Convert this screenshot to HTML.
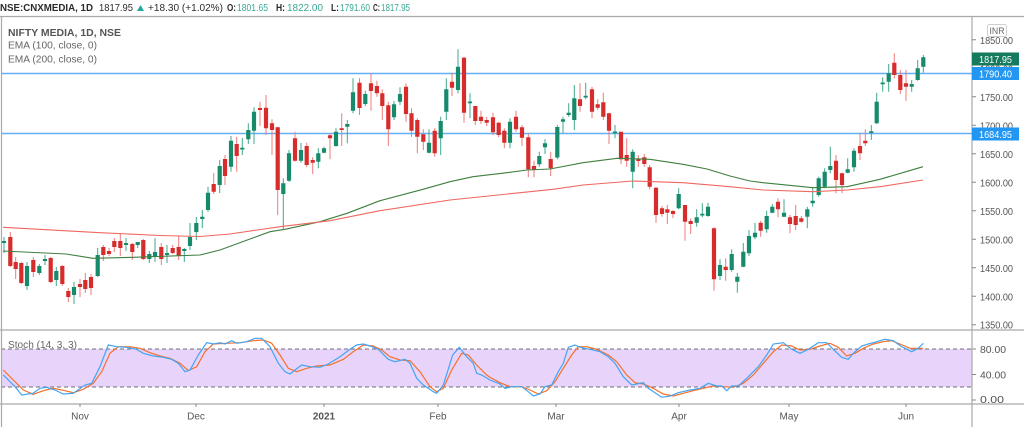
<!DOCTYPE html>
<html><head><meta charset="utf-8"><style>
html,body{margin:0;padding:0;background:#fff;}
svg{display:block;font-family:"Liberation Sans",sans-serif;}
</style></head><body>
<svg width="1024" height="427" viewBox="0 0 1024 427" xmlns="http://www.w3.org/2000/svg">
<rect width="1024" height="427" fill="#fff"/>
<!-- title -->
<g font-size="10.5" fill="#2b2b2b">
<text x="0" y="11" font-weight="bold" textLength="93" lengthAdjust="spacingAndGlyphs">NSE:CNXMEDIA, 1D</text>
<text x="99" y="11" textLength="34" lengthAdjust="spacingAndGlyphs">1817.95</text>
<polygon points="137,11 144,11 140.5,5" fill="#26a69a"/>
<text x="148" y="11" textLength="75" lengthAdjust="spacingAndGlyphs">+18.30 (+1.02%)</text>
<text x="227" y="11" font-weight="bold" textLength="9" lengthAdjust="spacingAndGlyphs">O:</text>
<text x="237" y="11" fill="#3aa796" textLength="31" lengthAdjust="spacingAndGlyphs">1801.65</text>
<text x="276" y="11" font-weight="bold" textLength="9" lengthAdjust="spacingAndGlyphs">H:</text>
<text x="287" y="11" fill="#3aa796" textLength="36" lengthAdjust="spacingAndGlyphs">1822.00</text>
<text x="331" y="11" font-weight="bold" textLength="8" lengthAdjust="spacingAndGlyphs">L:</text>
<text x="340" y="11" fill="#3aa796" textLength="30" lengthAdjust="spacingAndGlyphs">1791.60</text>
<text x="373" y="11" font-weight="bold" textLength="7" lengthAdjust="spacingAndGlyphs">C:</text>
<text x="381" y="11" fill="#3aa796" textLength="29" lengthAdjust="spacingAndGlyphs">1817.95</text>
</g>
<!-- stoch band -->
<rect x="1" y="349" width="971" height="38" fill="#e8d3fa"/>
<line x1="1" y1="349" x2="972" y2="349" stroke="#6f6f7a" stroke-width="1" stroke-dasharray="4,3"/>
<line x1="1" y1="387" x2="972" y2="387" stroke="#6f6f7a" stroke-width="1" stroke-dasharray="4,3"/>
<!-- frame -->
<g stroke="#a9a9a9" stroke-width="1.2" fill="none">
<line x1="0" y1="16.5" x2="1024" y2="16.5"/>
<line x1="1.5" y1="16.5" x2="1.5" y2="427"/>
<line x1="972" y1="16.5" x2="972" y2="427"/>
<line x1="0" y1="330" x2="1024" y2="330"/>
<line x1="0" y1="404" x2="1024" y2="404"/>
</g>
<!-- horizontal level lines -->
<line x1="1.5" y1="73.5" x2="972" y2="73.5" stroke="#64b0f5" stroke-width="1.5"/>
<line x1="1.5" y1="133.5" x2="972" y2="133.5" stroke="#64b0f5" stroke-width="1.5"/>
<!-- legend -->
<g font-size="10.5">
<text x="8" y="36" font-weight="bold" fill="#555" textLength="113" lengthAdjust="spacingAndGlyphs">NIFTY MEDIA, 1D, NSE</text>
<text x="8" y="48.5" fill="#666" textLength="89" lengthAdjust="spacingAndGlyphs">EMA (100, close, 0)</text>
<text x="8" y="62.5" fill="#666" textLength="89" lengthAdjust="spacingAndGlyphs">EMA (200, close, 0)</text>
<text x="8" y="348" fill="#666" font-size="10" textLength="69" lengthAdjust="spacingAndGlyphs">Stoch (14, 3, 3)</text>
</g>
<!-- candles -->
<path fill="none" stroke="#3fa88c" stroke-width="1" d="M4 237V253M27 262V290M39.3 264V275M45 255V265M56.3 267V286M74 282V304M97.7 248V277M126 238V251M137.7 242V248M149.3 251V263M155 238V262M167 245V263M184.3 248V262M190 223V250M196.3 217V240M202.3 210V228M208 186.7V211.7M219.7 160V193M231 136V171.7M242.3 138V155M248.3 123.3V144M254 107.3V144M283.3 178.3V230M289 150V181.7M301 142.7V162.7M318.3 148.3V168.3M324 146.7V153.3M336 128.3V146.7M347.3 120V143.3M353 78.3V113.3M365.3 90.7V106M394 101V120M400 87.3V105M429 129.3V153.3M440.7 116.7V155M446.3 78.3V120M458 49.3V93.3M470 93.3V118.3M510 118.3V148.3M539.3 151.7V166.7M545 139.3V154M557.3 125V159.3M563 116.7V133.3M568.7 103.3V116.7M574.3 85V130M585.7 82.7V99.3M615 125V138.3M632.7 149.3V188.3M678.7 188.3V209.3M696.7 209.3V226.7M702.3 203.3V217.3M708 202.7V216.7M720 259.3V280M731.7 249.3V271.7M737.3 272.7V292.7M743.3 243V267.3M749 230V256M755 222.7V239.3M766.7 210.7V232.7M772.3 204V213.3M784 199.3V217.3M807.3 206.7V228.3M812.7 186.7V206.7M818.7 176.7V196.7M824.7 168.3V188.3M830.3 146.7V173.3M847.7 158.3V173.3M854 148.3V171.7M871.3 125V140M876.7 92.7V124M882.7 77.3V91.7M888.7 64V91.7M911.7 80V91.7M917.7 60V80.7M923.3 55V72.7"/>
<path fill="none" stroke="#168a6b" stroke-width="4.2" d="M4 241V243M27 266V286M39.3 266V273M45 259V261M56.3 271V280M74 287V295M97.7 255V276M126 243V245M137.7 242V245M149.3 254V259M155 252V257M167 253V255M184.3 249V251M190 237V246M196.3 223V232M202.3 216.7V219M208 192.7V210M219.7 166V185M231 140.7V166.7M242.3 147.8V149.5M248.3 130V139.3M254 111.7V130.7M283.3 183.3V194M289 153.3V180.7M301 150V160.7M318.3 153.3V161.7M324 148.3V152.7M336 131.7V146M347.3 124V126.7M353 92.3V110.7M365.3 94V104M394 104.3V117.3M400 94V101.7M429 142.7V152.7M440.7 121V138.3M446.3 89.3V111.7M458 66.7V90M470 101.5V103.3M510 121.7V142.7M539.3 156V164.3M545 143.3V147.3M557.3 127V157.5M563 119.3V121.7M568.7 112.7V115M574.3 98.3V120M585.7 95.8V97.5M615 131.5V133.3M632.7 151.7V171.7M678.7 194V208.3M696.7 217.3V222.7M702.3 213.8V215.5M708 206.7V216M720 265V276M731.7 254V270M737.3 276.7V281.7M743.3 251.7V266.7M749 236V253.3M755 232.7V237.3M766.7 216V229.3M772.3 206.7V212.7M784 212.7V216.7M807.3 209.3V216.7M812.7 200.7V203.3M818.7 178.3V195M824.7 171.7V186.7M830.3 166V170M847.7 169.3V172.7M854 150.7V167.3M871.3 131.3V133M876.7 101.7V123.3M882.7 82.5V84.2M888.7 73.3V81.7M911.7 84V86.7M917.7 68.3V80M923.3 57.3V66.7"/>
<path fill="none" stroke="#ec7b7b" stroke-width="1" d="M10.3 232V267M15.7 257V279M21.3 262V284M33.3 257V277M50.7 257V283M62.3 265V286M68.3 288V302M80 279V297M85.3 273V293M91 274V295M103.3 245V261M109 248V256M114.3 238V252M120.3 233V256M132.3 243V260M143.3 239V260M161.3 243V265M172.7 245V254M178.7 236V260M213.7 173V194M225 155V185M236.7 136.7V171.7M260 101.7V126M266 95V135M272 119.3V155M277.7 126.7V215M295 131.7V161.7M306.7 142.7V167.3M312.7 157.3V174M330 133.3V159.3M341.7 113.3V146M359.5 78.3V115M371 73.3V110.7M376.9 80.7V96.7M382.3 89.3V120M388.3 101.7V146M406 83.3V121.7M411.5 108.3V136.7M417.3 118.3V153.3M423.3 129.3V150M434.7 128.3V156.7M452 72.7V96M464 56.7V122.7M475.3 106V125M481 110.7V124M486.7 116.7V126M493 112.7V135M498.7 121.7V137.3M504.3 128.3V148.3M516 110.7V131.7M522 125V146M528.3 134V177.3M534 160.7V177.3M550.7 151.7V176M580 83.3V111.7M592 86.7V118.3M597.7 99.3V110M603.3 92.7V120M609 112.7V144M621 131.7V164M626.7 138.3V166.7M638.3 155V166.7M644.3 154V166.7M649.7 165V189.3M656 187.3V222.7M662 206V216.7M667.3 205V224M673 210V218.3M685 205V240.7M690.7 218.3V234M714 227.3V290.7M725.7 258.3V280.7M760.7 220.7V236.7M778 198.3V217.3M790 215V233.3M795.7 205V230M801.3 216V222.7M836 155V193.3M842 172.7V193.3M860 132.7V160M865.3 129.3V146M894.3 53.3V78.3M900.3 70V94M906 70V100.7"/>
<path fill="none" stroke="#d62c2c" stroke-width="4.2" d="M10.3 237V266M15.7 262V269M21.3 263V283M33.3 260V272M50.7 258V282M62.3 266V284M68.3 291V297M80 284V287M85.3 280V289M91 277V288M103.3 247V255M109 251V254M114.3 241V247M120.3 241V248M132.3 244V252M143.3 240V259M161.3 247V259M172.7 248V253M178.7 247V256M213.7 184V191.7M225 159V176M236.7 144V156M260 108V110M266 107.7V128.3M272 123.3V130M277.7 127.3V190M295 138.3V160.7M306.7 146V165M312.7 160V162.7M330 135.3V138.3M341.7 128.3V130M359.5 82.7V108M371 83.3V91M376.9 86V93.3M382.3 93.3V106M388.3 105.3V129.3M406 86.7V114M411.5 113.3V130.7M417.3 120V136.7M423.3 134.3V141.7M434.7 130.7V153.3M452 81.7V87.7M464 57.7V112.7M475.3 106V121M481 116.7V121M486.7 120V122.7M493 117.3V132.3M498.7 122.7V135M504.3 130.7V142.7M516 116.7V129.3M522 127.3V137.7M528.3 137.3V169.3M534 166V170M550.7 159V168.3M580 99.3V106M592 89.3V111.7M597.7 104.3V107.7M603.3 102.3V116.7M609 113.3V130.7M621 131.7V159.3M626.7 155V160.7M638.3 159.2V161M644.3 157.3V164M649.7 167.3V186.7M656 187.7V215M662 208.3V214M667.3 209.3V212.7M673 211V214M685 205V221.7M690.7 221V224M714 228.3V279.3M725.7 266.7V270M760.7 222.7V230.7M778 201.7V209.3M790 217.3V224M795.7 216V225M801.3 218.3V221.7M836 160.7V180M842 173.3V185M860 146V153.3M865.3 140.7V143.3M894.3 62.7V75M900.3 75V90M906 83.3V86.7"/>
<!-- EMAs -->
<polyline fill="none" stroke="#3f7f3f" stroke-width="1.1" points="3,251 66,254 93,258.3 133,257.3 200,255 220,250 270,231.7 285,229.3 320,221.7 347,213.3 380,200.7 423,189.3 450,181.7 473,176.7 507,172.7 527,170 550,169 583,162.7 617,158.3 650,159.3 683,164.3 707,169 730,176 750,181 763,182.7 813,187.7 847,186.7 880,179.3 923,166.7"/>
<polyline fill="none" stroke="#f0675f" stroke-width="1.1" points="3,227.3 100,232.7 160,235.5 200,236.5 230,234 280,226.7 330,220.7 380,210.7 450,200 553,189.3 583,185 633,181 683,182.7 730,186.7 763,190 813,191.7 847,190 880,186.7 923,180"/>
<!-- stoch -->
<polyline fill="none" stroke="#f7702b" stroke-width="1.2" points="3.3,370 13.3,380 23.3,390 33.3,394.3 43.3,390.7 53.3,388.3 65,390.7 73.3,392.7 83.3,389.3 93.3,383.3 101.7,371.7 110,353.3 118.3,346.7 130,346.7 140,348.3 150,352.7 160,356 170,358.3 180,363.3 188.3,370.7 196.7,366.7 205,351.7 213.3,344 226.7,343.3 240,342.7 253.3,340.7 263.3,340 271.7,343.3 280,355 288.3,368.3 296.7,371.7 306.7,368.3 316.7,366 330,365 343.3,359.3 353.3,351.7 363.3,345 373.3,346 381.7,350 390,356.7 400,360 410,360.7 420,371.7 430,386.7 436.7,391.7 443.3,388.3 451.7,370 461.7,353.3 468.3,355 476.7,365 486.7,375 490,377.3 500,382.7 510,386.7 521.7,386.7 530,390 538.3,394 546.7,390.7 555,381.7 563.3,368.3 571.7,355 578.3,346.7 586.7,346.7 596.7,349.3 608.3,355 616.7,361.7 626.7,375 635,382.7 643.3,384 653.3,388.3 663.3,394 673.3,396 683.3,393.3 693.3,390.7 703.3,388.3 713.3,386 723.3,386.7 733.3,387.3 743.3,383.3 753.3,375 763.3,363.3 773.3,351.7 781.7,345 791.7,346 800,350 810,349.3 820,346 830,343.3 838.3,347.3 846.7,356 855,353.3 863.3,348.3 873.3,344 883.3,341.7 891.7,340.7 900,344 910,348.3 923.3,348.3"/>
<polyline fill="none" stroke="#42a5f5" stroke-width="1.2" points="3.3,375 15,386.7 21.7,395 33,393.3 40,388.3 46.7,387.3 55,390 63.3,394 73.3,393.3 85,385 91.7,383.3 100,366.7 108.3,345 116.7,346.7 126.7,347.3 136.7,349.3 143.3,353.3 153.3,356 163.3,357.3 171.7,359.3 178.3,363.3 185,371.7 190,370 198.3,355 206.7,342.7 213.3,344 220,342.7 225,344 231.7,340.7 236.7,343.3 246.7,341.7 255,338.3 261.7,338.3 270,346.7 278.3,363.3 285,371.7 290,374 295,370 301.7,365 310,366.7 320,367.3 328.3,364 340,356.7 350,349.3 356.7,345 363.3,344 370,346 378.3,349.3 388.3,359.3 395,361.7 405,359.3 410,363.3 416.7,378.3 423.3,385 433.3,391.7 436.7,393.3 443.3,385 452.7,355 459.3,347.3 466.7,356.7 473.3,363.3 476.7,373.3 481.7,375 490,380 500,384 505,388.3 511.7,386.7 521.7,386.7 528.3,391.7 533.3,396 540,394 545,386.7 551.7,385 558.3,371.7 563.3,363.3 568.3,347.3 575,345 580,347.3 590,349.3 600,351.7 608.3,356.7 615,363.3 623.3,376.7 631.7,385 636.7,384 643.3,382.7 648.3,388.3 655,392.7 661.7,397.3 670,396 678.3,392.7 690,390 700,388.3 708.3,383.3 716.7,386 721.7,386 726.7,390.7 731.7,386 738.3,386 746.7,378.3 758.3,366.7 766.7,355 773.3,344 783.3,342.7 791.7,349.3 800,353.3 808.3,349.3 818.3,342.7 826.7,342.7 833.3,349.3 841.7,357.3 848.3,359.3 853.3,353.3 861.7,346 868.3,344 876.7,341.7 885,339.3 893.3,340.7 901.7,346.7 911.7,351.7 918.3,348.3 923.3,343.3"/>
<!-- price axis ticks -->
<path stroke="#888" stroke-width="1" d="M972 39.8H976M972 68.3H976M972 96.8H976M972 125.3H976M972 153.8H976M972 182.3H976M972 210.8H976M972 239.3H976M972 267.8H976M972 296.3H976M972 324.8H976M972 349H976M972 374.5H976M972 400H976"/>
<g font-size="10" fill="#555">
<text x="980" y="43.8" textLength="33" lengthAdjust="spacingAndGlyphs">1850.00</text>
<text x="980" y="72.3" textLength="33" lengthAdjust="spacingAndGlyphs">1800.00</text>
<text x="980" y="100.8" textLength="33" lengthAdjust="spacingAndGlyphs">1750.00</text>
<text x="980" y="129.3" textLength="33" lengthAdjust="spacingAndGlyphs">1700.00</text>
<text x="980" y="157.8" textLength="33" lengthAdjust="spacingAndGlyphs">1650.00</text>
<text x="980" y="186.3" textLength="33" lengthAdjust="spacingAndGlyphs">1600.00</text>
<text x="980" y="214.8" textLength="33" lengthAdjust="spacingAndGlyphs">1550.00</text>
<text x="980" y="243.3" textLength="33" lengthAdjust="spacingAndGlyphs">1500.00</text>
<text x="980" y="271.8" textLength="33" lengthAdjust="spacingAndGlyphs">1450.00</text>
<text x="980" y="300.3" textLength="33" lengthAdjust="spacingAndGlyphs">1400.00</text>
<text x="980" y="328.6" textLength="33" lengthAdjust="spacingAndGlyphs">1350.00</text>
<text x="980" y="353" textLength="26" lengthAdjust="spacingAndGlyphs">80.00</text>
<text x="980" y="378.5" textLength="26" lengthAdjust="spacingAndGlyphs">40.00</text>
<text x="980" y="403" textLength="24" lengthAdjust="spacingAndGlyphs">0.00</text>
</g>
<!-- INR -->
<rect x="987.5" y="24.5" width="19" height="12" rx="2" fill="#fff" stroke="#cfcfcf" stroke-width="1"/>
<text x="989.5" y="34" font-size="9" fill="#666" textLength="15" lengthAdjust="spacingAndGlyphs">INR</text>
<!-- price labels -->
<rect x="972" y="52.5" width="47" height="13" fill="#157a5e"/>
<text x="979" y="62.8" font-size="10.5" fill="#fff" textLength="33" lengthAdjust="spacingAndGlyphs">1817.95</text>
<rect x="972" y="67" width="47" height="13" fill="#2196f3"/>
<text x="979" y="77.3" font-size="10.5" fill="#fff" textLength="33" lengthAdjust="spacingAndGlyphs">1790.40</text>
<rect x="972" y="127.5" width="47" height="13" fill="#2196f3"/>
<text x="979" y="137.8" font-size="10.5" fill="#fff" textLength="33" lengthAdjust="spacingAndGlyphs">1684.95</text>
<!-- time axis -->
<path stroke="#888" stroke-width="1" d="M80 404V407M196 404V407M324 404V407M438 404V407M556 404V407M679 404V407M789 404V407M906 404V407"/>
<g font-size="10" fill="#555" text-anchor="middle">
<text x="80" y="419.5">Nov</text>
<text x="196" y="419.5">Dec</text>
<text x="324" y="419.5" font-weight="bold">2021</text>
<text x="438" y="419.5">Feb</text>
<text x="556" y="419.5">Mar</text>
<text x="679" y="419.5">Apr</text>
<text x="789" y="419.5">May</text>
<text x="906" y="419.5">Jun</text>
</g>
</svg>
</body></html>
